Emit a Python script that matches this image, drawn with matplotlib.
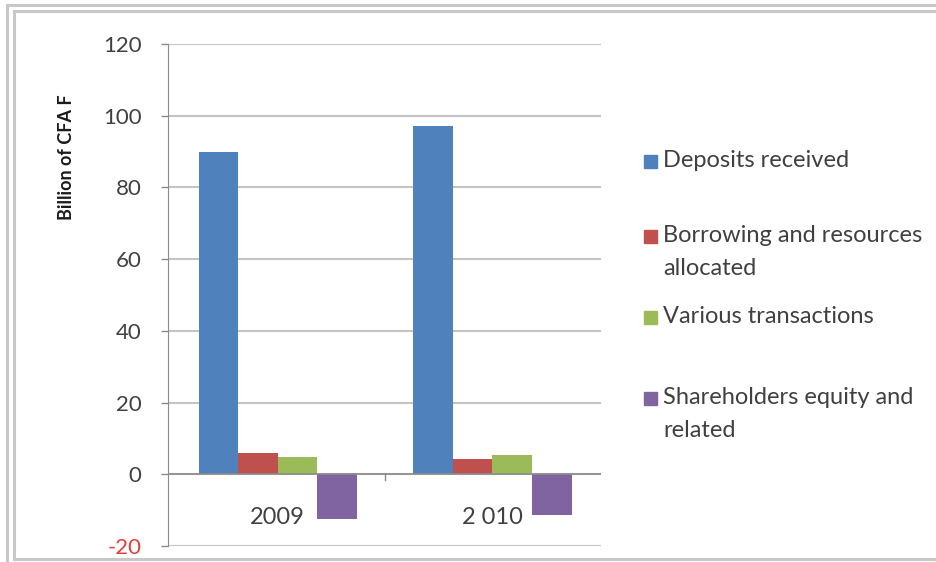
import matplotlib.pyplot as plt
import numpy as np
from matplotlib.lines import Line2D
from matplotlib.patches import Rectangle

plt.rcParams['font.family'] = ['Lato', 'DejaVu Sans']

years = ['2009', '2 010']
series = ['Deposits received', 'Borrowing and resources\nallocated',
          'Various transactions', 'Shareholders equity and\nrelated']
deposits = [90, 97]
borrowing = [5.9, 4.2]
various = [4.8, 5.3]
equity = [-12.6, -11.4]
colors = ['#4f81bd', '#c0504d', '#9bbb59', '#8064a2']
yticks = [-20, 0, 20, 40, 60, 80, 100, 120]

W, H = 936, 562
fig = plt.figure(figsize=(W / 100, H / 100), dpi=100)
ax = fig.add_axes([168 / W, 1 - 546 / H, 433 / W, 502 / H])

x = np.arange(len(years))
w = 0.184
for i, vals in enumerate([deposits, borrowing, various, equity]):
    ax.bar(x + (i - 1.5) * w, vals, w, color=colors[i], zorder=3)

ax.set_xlim(-0.51, 1.505)
ax.set_ylim(-20, 120)
ax.set_yticks(yticks)
ax.set_yticklabels([str(t) for t in yticks], fontsize=16, color='#404040')
ax.get_yticklabels()[0].set_color('#e0403a')
ax.grid(axis='y', color='#c4c4c4', lw=1.5, zorder=0)
ax.tick_params(axis='y', length=5, width=1, color='#8c8c8c', pad=14)
ax.set_xticks([])
for s in ['top', 'right', 'bottom']:
    ax.spines[s].set_visible(False)
ax.spines['left'].set_color('#8c8c8c')
ax.axhline(0, color='#8c8c8c', lw=1.2, zorder=4)
ax.plot([0.5, 0.5], [0, -1.5], color='#8c8c8c', lw=1, zorder=4)

# category labels sit just under the zero line
for xi, lab in zip(x, years):
    ax.text(xi, -12, lab, ha='center', va='center', fontsize=17, color='#404040')

fig.text(67 / W, 1 - 157 / H, 'Billion of CFA F', rotation=90,
         ha='center', va='center', fontsize=13, fontweight='bold', color='#1a1a1a')

# legend entries (square + label, first line centred on the square)
leg_y = [162, 237, 318, 399]
for c, lab, yy in zip(colors, series, leg_y):
    fig.patches.append(Rectangle((644 / W, 1 - (yy + 6) / H), 13 / W, 13 / H,
                                 transform=fig.transFigure, color=c))
    fig.text(663 / W, 1 - (yy - 12) / H, lab, ha='left', va='top', fontsize=17,
             color='#404040', linespacing=1.68)

# frame around the chart
frame = dict(transform=fig.transFigure, color='#c8c8c8', lw=2.2)
fig.lines.append(Line2D([7 / W, 7 / W], [0, 1 - 5 / H], **frame))
fig.lines.append(Line2D([7 / W, 1], [1 - 5 / H, 1 - 5 / H], **frame))
fig.lines.append(Line2D([14 / W, 14 / W], [1 - 559 / H, 1 - 11 / H], **frame))
fig.lines.append(Line2D([14 / W, 1], [1 - 11 / H, 1 - 11 / H], **frame))
fig.lines.append(Line2D([14 / W, 1], [1 - 559 / H, 1 - 559 / H], **frame))

fig.savefig('out.png', dpi=100, facecolor='white')
